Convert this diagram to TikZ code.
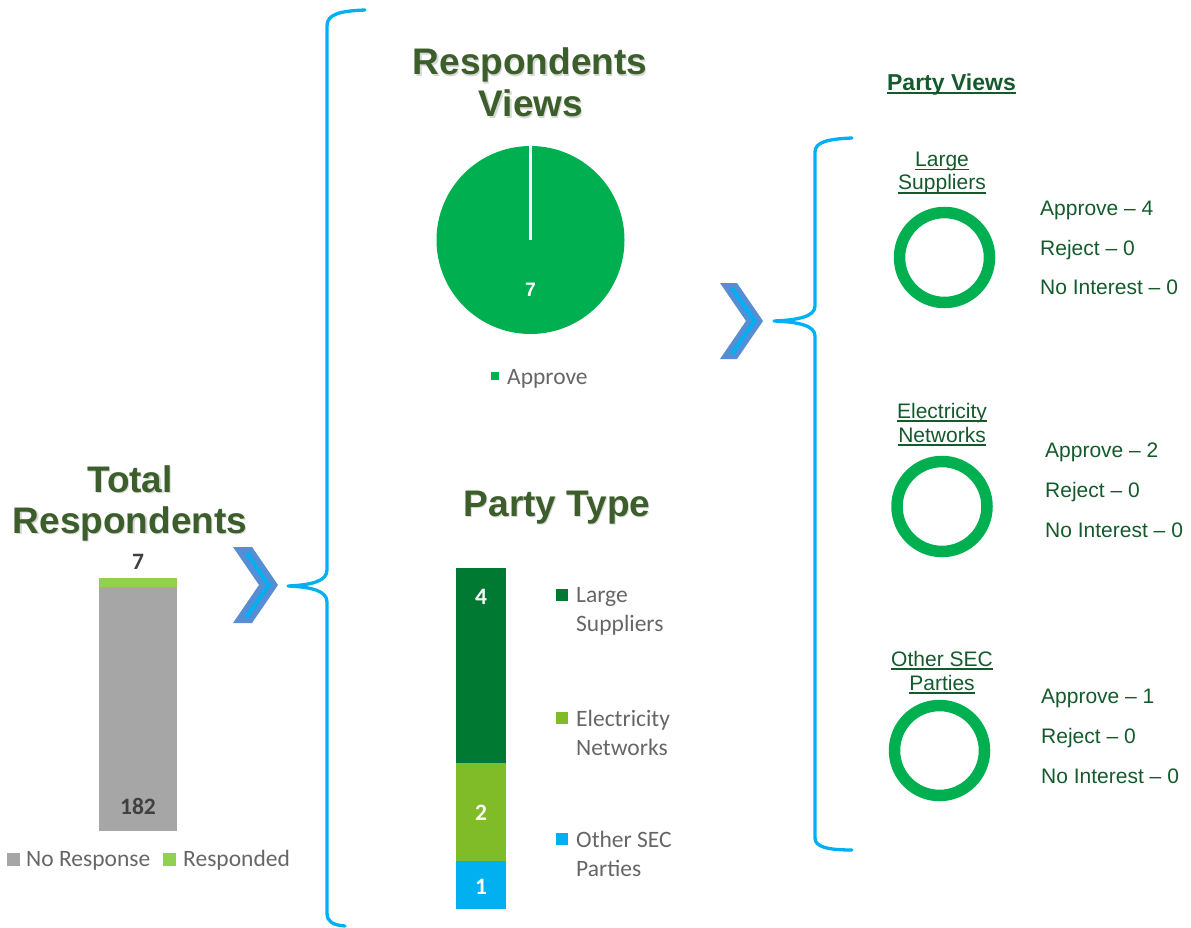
\documentclass[tikz,border=0pt]{standalone}
\usepackage{fontspec}
\setmainfont{Liberation Sans}
\newfontfamily\calfont{Carlito}
\definecolor{titlegreen}{HTML}{3B5E2B}
\definecolor{dkgreen}{HTML}{145A2C}
\definecolor{piegreen}{HTML}{00B050}
\definecolor{barDark}{HTML}{007A33}
\definecolor{barLight}{HTML}{80BC27}
\definecolor{cyanblue}{HTML}{00B0F0}
\definecolor{chevblue}{HTML}{558ED5}
\definecolor{leggray}{HTML}{666666}
\definecolor{numgray}{HTML}{404040}
\definecolor{bargray}{HTML}{A6A6A6}
\definecolor{respgreen}{HTML}{92D050}
\newcommand{\myul}[2][1.5pt]{\setbox0=\hbox{#2}\rlap{\rule[-3.5pt]{\wd0}{#1}}\box0}
\begin{document}
\begin{tikzpicture}[x=1pt,y=-1pt,
  title/.style={font=\fontsize{37}{42}\selectfont\bfseries, text=titlegreen, inner sep=0, anchor=base},
  tshadow/.style={font=\fontsize{37}{42}\selectfont\bfseries, text=black!35, opacity=0.45, inner sep=0, anchor=base},
  legtxt/.style={font=\calfont\fontsize{23.5}{28}\selectfont, text=leggray, inner sep=0, anchor=base west},
  rtxt/.style={font=\fontsize{21}{24}\selectfont, text=dkgreen, inner sep=0, anchor=base west},
  rhead/.style={font=\fontsize{21}{24}\selectfont, text=dkgreen, inner sep=0, anchor=base},
  barnum/.style={font=\calfont\bfseries\fontsize{23.5}{28}\selectfont, inner sep=0},
  brace/.style={draw=cyanblue, line width=3.3pt, line cap=round, line join=round},
  ring/.style={draw=piegreen, line width=11.5pt},
  chevouter/.style={fill=chevblue},
  chevinner/.style={draw=cyanblue, line width=4pt}
]
\useasboundingbox (0,0) rectangle (1191,928);

% ---------- Left: Total Respondents ----------
\node[tshadow] (tot1s) at (131.2,493.2) {Total};
\node[tshadow] (tot2s) at (131.2,534.2) {Respondents};
\node[title] (tot1) at (130,492) {Total};
\node[title] (tot2) at (130,533) {Respondents};
\fill[respgreen] (99,577.5) rectangle (177,587);
\fill[bargray] (99,587) rectangle (177,831);
\node[barnum, text=numgray] (n7) at (138,562) {7};
\node[barnum, text=numgray] (n182) at (138,806) {182};
\fill[bargray] (7,853) rectangle (20,866);
\node[legtxt] (lnr) at (26,866) {No Response};
\fill[respgreen] (163,853) rectangle (176,866);
\node[legtxt] (lres) at (183,866) {Responded};

% chevron left
\fill[chevouter] (233,547) -- (252,547) -- (278,585) -- (252,623) -- (233,623) -- (259,585) -- cycle;
\draw[chevinner] (246.6,553) -- (268.5,585) -- (246.6,617);

% left brace
\draw[brace] (365,10) .. controls (340,11) and (327,14) .. (327,26)
  -- (327,570) .. controls (327,581) and (312,585) .. (288,586)
  .. controls (312,587) and (327,591) .. (327,602)
  -- (327,913) .. controls (327,922) and (333,925) .. (345,926);

% ---------- Middle top: Respondents Views ----------
\node[tshadow] (rv1s) at (531.2,76.2) {Respondents};
\node[tshadow] (rv2s) at (532.2,118.2) {Views};
\node[title] (rv1) at (530,75) {Respondents};
\node[title] (rv2) at (531,117) {Views};
\fill[piegreen] (530.5,240) circle (94);
\draw[white, line width=3pt] (530.5,146) -- (530.5,240);
\node[font=\fontsize{19.5}{22}\selectfont\bfseries, text=white, inner sep=0] (p7) at (530.5,290) {7};
\fill[piegreen] (491,372) rectangle (499,380);
\node[legtxt] (lap) at (507,384) {Approve};

% ---------- Middle bottom: Party Type ----------
\node[tshadow] (pts) at (558.2,517.2) {Party Type};
\node[title] (pt) at (557,516) {Party Type};
\fill[barDark] (456,568) rectangle (506,763);
\fill[barLight] (456,763) rectangle (506,861);
\fill[cyanblue] (456,861) rectangle (506,909);
\node[barnum, text=white] (b4) at (481,597) {4};
\node[barnum, text=white] (b2) at (481,813) {2};
\node[barnum, text=white] (b1) at (481,887) {1};
\fill[barDark] (556,589) rectangle (568,601);
\node[legtxt] (lls1) at (576,602) {Large};
\node[legtxt] (lls2) at (576,631) {Suppliers};
\fill[barLight] (556,712) rectangle (568,724);
\node[legtxt] (len1) at (576,726) {Electricity};
\node[legtxt] (len2) at (576,755) {Networks};
\fill[cyanblue] (556,833) rectangle (568,845);
\node[legtxt] (los1) at (576,847) {Other SEC};
\node[legtxt] (los2) at (576,876) {Parties};

% chevron right
\fill[chevouter] (720,283) -- (737,283) -- (763,321) -- (737,359) -- (720,359) -- (746,321) -- cycle;
\draw[chevinner] (731.9,288) -- (754.5,321) -- (731.9,354);

% right brace
\draw[brace] (852,138) .. controls (828,139) and (815,142) .. (815,152)
  -- (815,306) .. controls (815,316) and (800,320) .. (774,321)
  .. controls (800,322) and (815,326) .. (815,336)
  -- (815,838) .. controls (815,847) and (828,850) .. (852,850);

% ---------- Right: Party Views ----------
\node[font=\fontsize{23}{26}\selectfont\bfseries, text=dkgreen, inner sep=0, anchor=base] (pv) at (951.5,91) {\myul[2.2pt]{Party Views}};

\node[rhead] (h1a) at (942,167) {\myul{Large}};
\node[rhead] (h1b) at (942,190) {\myul{Suppliers}};
\draw[ring] (944.5,257.5) circle (45);
\node[rtxt] (t1a) at (1040,215) {Approve – 4};
\node[rtxt] (t1b) at (1040,255) {Reject – 0};
\node[rtxt] (t1c) at (1040,294) {No Interest – 0};

\node[rhead] (h2a) at (942,418) {\myul{Electricity}};
\node[rhead] (h2b) at (942,442) {\myul{Networks}};
\draw[ring] (942,506.5) circle (45);
\node[rtxt] (t2a) at (1045,457) {Approve – 2};
\node[rtxt] (t2b) at (1045,497) {Reject – 0};
\node[rtxt] (t2c) at (1045,537) {No Interest – 0};

\node[rhead] (h3a) at (942,666) {\myul{Other SEC}};
\node[rhead] (h3b) at (942,690) {\myul{Parties}};
\draw[ring] (939.5,750.5) circle (45);
\node[rtxt] (t3a) at (1041,703) {Approve – 1};
\node[rtxt] (t3b) at (1041,743) {Reject – 0};
\node[rtxt] (t3c) at (1041,783) {No Interest – 0};
\end{tikzpicture}
\end{document}
